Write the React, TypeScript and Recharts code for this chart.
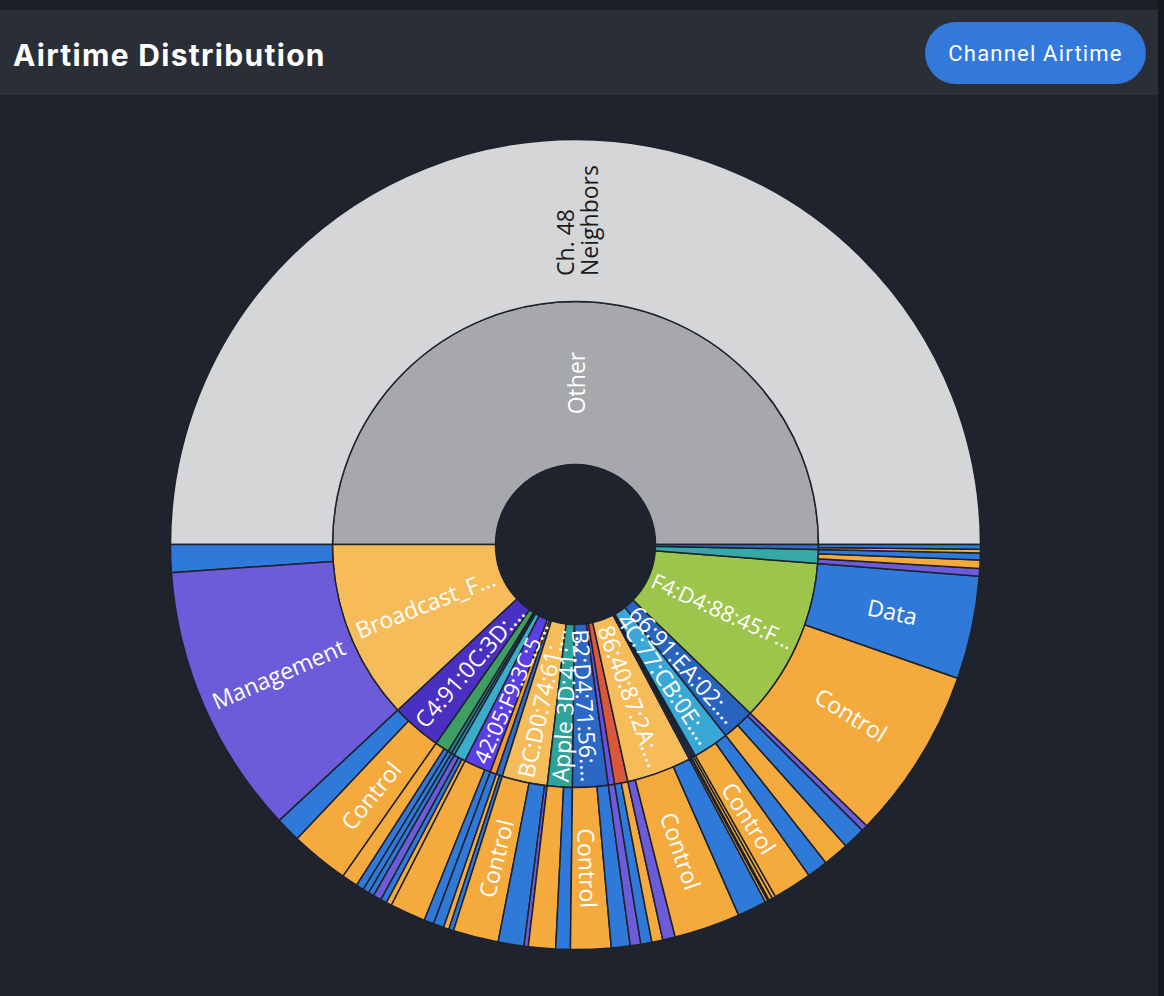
import React from 'react';
import { PieChart, Pie, Cell } from 'recharts';

// share of channel airtime (%), inner ring = transmitter, outer ring = frame type
const devices = [
  'Other', 'Broadcast_F...', 'C4:91:0C:3D:...', '3C:52:82:...', 'A8:6B:AD:...', 'D8:3A:DD:...',
  'D2:1F:6E:...', '42:05:F9:3C:5...', 'E6:4A:0B:...', '1A:2C:93:...', 'BC:D0:74:61:...',
  'Apple 3D:41:...', 'B2:D4:71:56:...', '5E:91:A7:...', 'F0:2F:74:...', '86:40:87:2A:...',
  '7A:11:C2:...', '9C:B6:D0:...', '60:45:CB:...', '4C:77:CB:0E:...', '66:91:EA:02:...',
  'F4:D4:88:45:F...', '18:E8:29:...', '02:0F:B5:...',
];

const frameTypes = [
  ['Ch. 48 Neighbors'],
  ['Data', 'Management'],
  ['Data', 'Control'],
  ['Control', 'Data'],
  ['Data'],
  ['Data'],
  ['Management', 'Data', 'Control'],
  ['Control', 'Data'],
  ['Data'],
  ['Control', 'Data'],
  ['Control', 'Data', 'Management'],
  ['Control', 'Data'],
  ['Control', 'Data'],
  ['Management'],
  ['Data', 'Control'],
  ['Management', 'Control', 'Data'],
  ['Control', 'Data'],
  ['Control'],
  ['Control'],
  ['Control', 'Data'],
  ['Control', 'Data', 'Management'],
  ['Control', 'Data'],
  ['Management', 'Control', 'Data'],
  ['Control', 'Data'],
];

const frameAirtime = [
  [50.0],
  [1.11, 10.83],
  [1.0, 2.33],
  [0.64, 0.31],
  [0.25],
  [0.22],
  [0.33, 0.25, 0.22],
  [1.42, 0.39],
  [0.42],
  [0.22, 0.19],
  [1.81, 1.03, 0.17],
  [1.08, 0.58],
  [1.61, 0.75],
  [0.42],
  [0.44, 0.44],
  [0.5, 2.64, 1.17],
  [0.11, 0.06],
  [0.14],
  [0.14],
  [1.56, 0.83],
  [1.03, 0.89, 0.25],
  [6.86, 4.11],
  [0.31, 0.33, 0.28],
  [0.14, 0.19],
];

const deviceColors: Record<string, string> = {
  'Other': '#a6a8ab',
  'Broadcast_F...': '#f6bc5a',
  'C4:91:0C:3D:...': '#4a30c0',
  '3C:52:82:...': '#3f9e63',
  'A8:6B:AD:...': '#2b7c8a',
  'D8:3A:DD:...': '#2e8fa0',
  'D2:1F:6E:...': '#3aaccc',
  '42:05:F9:3C:5...': '#5b3ee6',
  'E6:4A:0B:...': '#f29a2e',
  '1A:2C:93:...': '#2d6fc2',
  'BC:D0:74:61:...': '#f6bc5a',
  'Apple 3D:41:...': '#2fa39a',
  'B2:D4:71:56:...': '#2b68c5',
  '5E:91:A7:...': '#6a4fe3',
  'F0:2F:74:...': '#d9573a',
  '86:40:87:2A:...': '#f6bc5a',
  '7A:11:C2:...': '#233a6b',
  '9C:B6:D0:...': '#26407a',
  '60:45:CB:...': '#233a6b',
  '4C:77:CB:0E:...': '#3aa8d6',
  '66:91:EA:02:...': '#2864bf',
  'F4:D4:88:45:F...': '#9dc44b',
  '18:E8:29:...': '#36a8a6',
  '02:0F:B5:...': '#2d6fc2',
};

const frameColors: Record<string, string> = {
  'Ch. 48 Neighbors': '#d5d6d7',
  Data: '#2f7ad9',
  Control: '#f4aa3d',
  Management: '#6c5cd9',
};

const multiLine: Record<string, string[]> = {
  'Ch. 48 Neighbors': ['Ch. 48', 'Neighbors'],
};

const innerData = devices.map((name, i) => ({
  name,
  value: frameAirtime[i].reduce((s, v) => s + v, 0),
}));

const outerData = devices.flatMap((name, i) =>
  frameTypes[i].map((t, j) => ({ name: t, device: name, value: frameAirtime[i][j] }))
);

const BG = '#1f232d';
const FONT = '"Open Sans", "Noto Sans", sans-serif';
const BASE = 23;

let ctx: CanvasRenderingContext2D | null = null;
const textWidth = (s: string, size: number) => {
  if (!ctx) ctx = document.createElement('canvas').getContext('2d');
  if (!ctx) return s.length * size * 0.55;
  ctx.font = `${size}px "Open Sans"`;
  return ctx.measureText(s).width;
};

const renderLabel = (p: any) => {
  const { cx, cy, midAngle, innerRadius, outerRadius, percent } = p;
  const name = p.name ?? p.payload?.name;
  if (percent * 100 < 1.5) return null;
  const r = (innerRadius + outerRadius) / 2;
  const rad = (midAngle * Math.PI) / 180;
  const x = cx + r * Math.cos(rad);
  const y = cy - r * Math.sin(rad);
  const a = ((midAngle % 360) + 360) % 360;
  const rot = a > 90 && a < 270 ? 180 - a : -a;
  const color = name === 'Ch. 48 Neighbors' ? '#1a1a1a' : '#ffffff';
  const room = (outerRadius - innerRadius) * 0.94;
  const lines = multiLine[name];
  if (lines) {
    const w = Math.max(...lines.map((l) => textWidth(l, BASE)));
    return (
      <text
        x={x - w / 2}
        y={y}
        fill={color}
        fontSize={BASE}
        fontFamily={FONT}
        textAnchor="start"
        transform={`rotate(${rot}, ${x}, ${y})`}
      >
        {lines.map((l, k) => (
          <tspan key={k} x={x - w / 2} dy={k === 0 ? -2 : 24}>
            {l}
          </tspan>
        ))}
      </text>
    );
  }
  const size = Math.min(BASE, (BASE * room) / textWidth(name, BASE));
  return (
    <text
      x={x}
      y={y}
      fill={color}
      fontSize={size}
      fontFamily={FONT}
      textAnchor="middle"
      dominantBaseline="central"
      transform={`rotate(${rot}, ${x}, ${y})`}
    >
      {name}
    </text>
  );
};

export default function App() {
  return (
    <div style={{ position: 'absolute', left: 0, top: 0, width: 1164, height: 996, background: BG, overflow: 'hidden' }}>
      <div style={{ position: 'absolute', left: 0, top: 0, width: 1164, height: 10, background: '#1c1f26' }} />
      <div style={{ position: 'absolute', left: 0, top: 10, width: 1164, height: 85, background: '#2a2e37' }} />
      <div
        style={{
          position: 'absolute',
          left: 13,
          top: 35,
          color: '#ffffff',
          fontFamily: 'Inter, "Noto Sans", sans-serif',
          fontWeight: 700,
          fontSize: 30,
          lineHeight: '40px',
          letterSpacing: 1.3,
        }}
      >
        Airtime Distribution
      </div>
      <div
        style={{
          position: 'absolute',
          left: 925,
          top: 22,
          width: 221,
          height: 62,
          borderRadius: 31,
          background: '#3378db',
          color: '#ffffff',
          fontFamily: 'Roboto, "Noto Sans", sans-serif',
          fontSize: 22,
          letterSpacing: 1.2,
          display: 'flex',
          alignItems: 'center',
          justifyContent: 'center',
        }}
      >
        Channel Airtime
      </div>
      <div style={{ position: 'absolute', left: 0, top: 0 }}>
        <PieChart width={1164} height={996} margin={{ top: 0, right: 0, bottom: 0, left: 0 }}>
          <Pie
            data={innerData}
            dataKey="value"
            nameKey="name"
            cx={575.5}
            cy={544.5}
            innerRadius={80}
            outerRadius={243}
            startAngle={0}
            endAngle={360}
            stroke="#1e222c"
            strokeWidth={1.5}
            label={renderLabel}
            labelLine={false}
            isAnimationActive={false}
          >
            {innerData.map((d, i) => (
              <Cell key={i} fill={deviceColors[d.name]} />
            ))}
          </Pie>
          <Pie
            data={outerData}
            dataKey="value"
            nameKey="name"
            cx={575.5}
            cy={544.5}
            innerRadius={243}
            outerRadius={405}
            startAngle={0}
            endAngle={360}
            stroke="#1e222c"
            strokeWidth={1.5}
            label={renderLabel}
            labelLine={false}
            isAnimationActive={false}
          >
            {outerData.map((d, i) => (
              <Cell key={i} fill={frameColors[d.name]} />
            ))}
          </Pie>
        </PieChart>
      </div>
      <div style={{ position: 'absolute', left: 1158, top: 0, width: 6, height: 996, background: '#15171c' }} />
    </div>
  );
}
